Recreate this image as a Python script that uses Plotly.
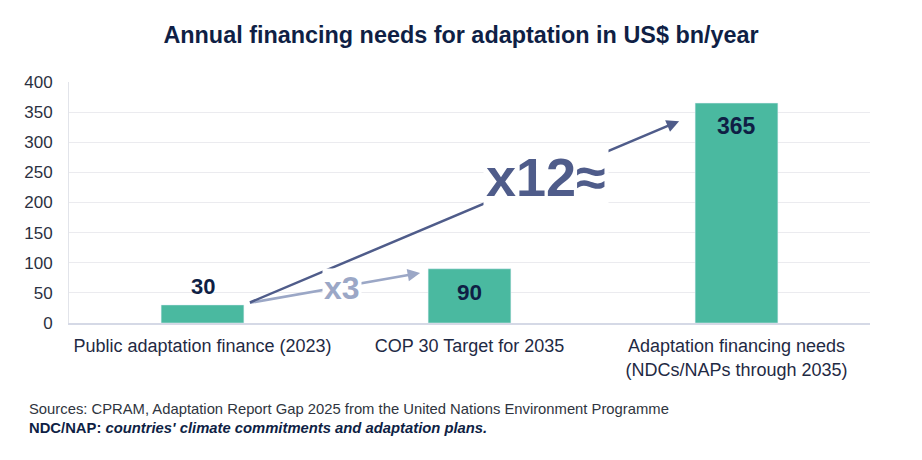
import plotly.graph_objects as go

categories = ["Public adaptation finance (2023)", "COP 30 Target for 2035",
              "Adaptation financing needs<br>(NDCs/NAPs through 2035)"]
values = [30, 90, 365]
y_ticks = [0, 50, 100, 150, 200, 250, 300, 350, 400]
multiplier_labels = ["x3", "x12≈"]

NAVY = "#0f1f45"
BAR = "#4ab9a0"
DARK_ARROW = "#4f5c8a"
LIGHT_ARROW = "#9ba7c6"
FONT = "Liberation Sans, Arial, sans-serif"

fig = go.Figure()
fig.add_trace(go.Bar(x=[0, 1, 2], y=values, marker_color=BAR, width=0.31,
                     hoverinfo="skip"))

ann = []
# bar value labels
label_pos = [(values[0], "bottom", 4, 22), (values[1] / 2, "middle", 3, 22.5),
             (values[2], "top", -8, 23)]
for i, (v, (yy, anc, sh, fs)) in enumerate(zip(values, label_pos)):
    ann.append(dict(x=i, y=yy, xref="x", yref="y", text=f"<b>{v}</b>", showarrow=False,
                    yanchor=anc, yshift=sh,
                    font=dict(family=FONT, size=fs, color=NAVY)))

# arrows
ann.append(dict(x=0.815, y=83, ax=0.172, ay=33, xref="x", yref="y", axref="x", ayref="y",
                text="", showarrow=True, arrowhead=2, arrowsize=1, arrowwidth=2.5,
                arrowcolor=LIGHT_ARROW, standoff=0, startstandoff=0))
ann.append(dict(x=1.785, y=335, ax=0.172, ay=33, xref="x", yref="y", axref="x", ayref="y",
                text="", showarrow=True, arrowhead=2, arrowsize=1, arrowwidth=2.5,
                arrowcolor=DARK_ARROW, standoff=0, startstandoff=0))
# multiplier texts
ann.append(dict(x=0.524, y=58, xref="x", yref="y", text=f"<b>{multiplier_labels[0]}</b>",
                showarrow=False, bgcolor="white", borderpad=1,
                font=dict(family=FONT, size=32, color=LIGHT_ARROW)))
ann.append(dict(x=1.285, y=242, xref="x", yref="y", text=f"<b>{multiplier_labels[1]}</b>",
                showarrow=False, bgcolor="white", borderpad=2,
                font=dict(family=FONT, size=54, color=DARK_ARROW)))

# footer
ann.append(dict(x=-0.0524, y=-0.357, xref="paper", yref="paper", xanchor="left", yanchor="middle",
                text="Sources: CPRAM, Adaptation Report Gap 2025 from the United Nations Environment Programme",
                showarrow=False, font=dict(family=FONT, size=14.8, color="#2f3540")))
ann.append(dict(x=-0.0524, y=-0.4357, xref="paper", yref="paper", xanchor="left", yanchor="middle",
                text="<b>NDC/NAP: <i>countries' climate commitments and adaptation plans.</i></b>",
                showarrow=False, font=dict(family=FONT, size=14.8, color=NAVY)))

fig.update_layout(
    width=922, height=460,
    margin=dict(l=69, r=52, t=82, b=137),
    paper_bgcolor="white", plot_bgcolor="white",
    showlegend=False,
    title=dict(text="<b>Annual financing needs for adaptation in US$ bn/year</b>",
               x=0.5, xanchor="center", y=0.925, yanchor="middle",
               font=dict(family=FONT, size=23.4, color=NAVY)),
    annotations=ann,
    bargap=0.69,
)
fig.update_xaxes(tickvals=[0, 1, 2], ticktext=categories, range=[-0.5, 2.5],
                 showline=True, linecolor="#d5d9e6", linewidth=1.5, showgrid=False,
                 ticks="", tickfont=dict(family=FONT, size=18, color="#1f2a44"),
                 ticklabelstandoff=6, fixedrange=True)
fig.update_yaxes(range=[0, 400], tickvals=y_ticks, showgrid=True, gridcolor="#ebebef",
                 gridwidth=1, showline=True, linecolor="#e2e4ea", linewidth=1, zeroline=False,
                 ticks="", tickfont=dict(family=FONT, size=17, color="#2b3040"),
                 ticklabelstandoff=12, fixedrange=True)

fig.write_html("out.html")
